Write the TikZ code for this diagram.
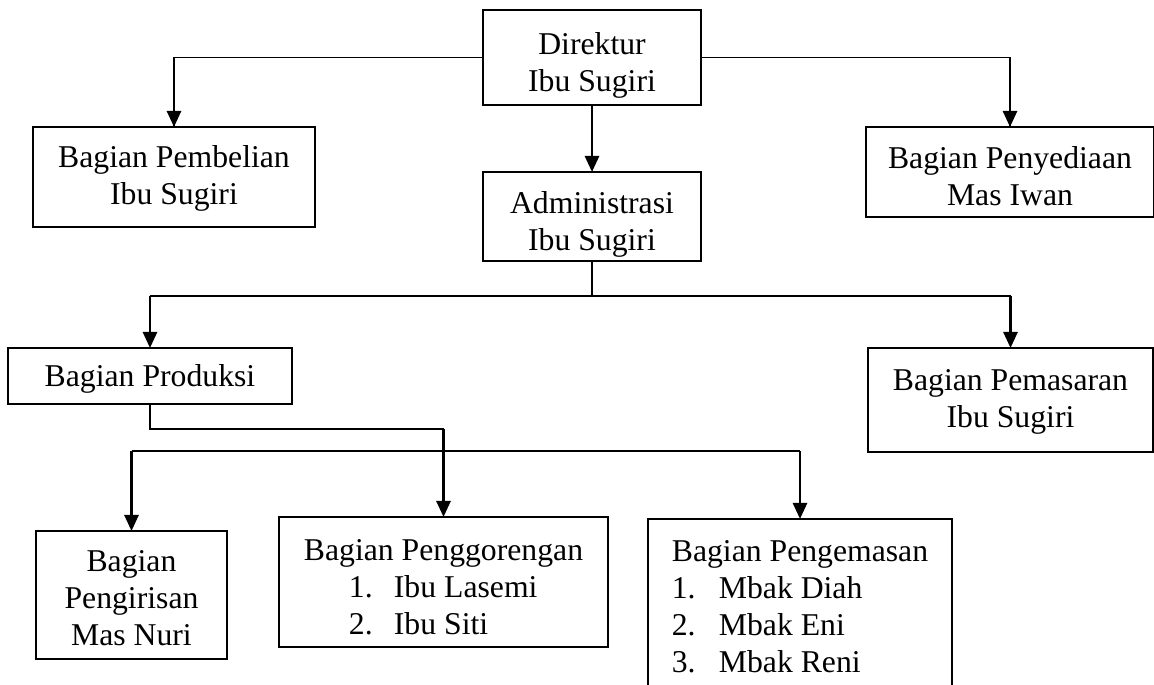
\documentclass[tikz,border=0pt]{standalone}
\usepackage{fontspec}
\setmainfont{Liberation Serif}
\usetikzlibrary{arrows.meta}
\newcommand\mystrut[1]{\rule{0pt}{#1}}
\begin{document}
\begin{tikzpicture}[x=0.025cm,y=-0.025cm,
  font=\fontsize{22.55}{26.3}\selectfont,
  box/.style={draw,line width=1.2pt,inner sep=0pt,outer sep=0pt,align=center},
  hline/.style={line width=1pt},
  arr/.style={line width=1.8pt,-{Triangle[length=11.4pt,width=10pt]}}]
\useasboundingbox (0,0) rectangle (1154,684);
\node[box,minimum width=5.45cm,minimum height=2.375cm] (dir) at (592,57.5) {\mystrut{26.9pt}Direktur\\Ibu Sugiri};
\node[box,minimum width=5.45cm,minimum height=2.225cm] (adm) at (592,216.5) {\mystrut{26.9pt}Administrasi\\Ibu Sugiri};
\node[box,minimum width=7.05cm,minimum height=2.5cm] (beli) at (174,177) {\mystrut{17.6pt}Bagian Pembelian\\Ibu Sugiri};
\node[box,minimum width=7.2cm,minimum height=2.25cm] (sedia) at (1010,172) {\mystrut{21.2pt}Bagian Penyediaan\\Mas Iwan};
\node[box,minimum width=7.1cm,minimum height=1.4cm] (prod) at (150,376) {\mystrut{19.8pt}Bagian Produksi};
\node[box,minimum width=7.125cm,minimum height=2.6cm] (pasar) at (1010.5,400) {\mystrut{18.3pt}Bagian Pemasaran\\Ibu Sugiri};
\node[box,minimum width=4.775cm,minimum height=3.2cm] (iris) at (131.5,595) {\mystrut{19.1pt}Bagian\\Pengirisan\\Mas Nuri};
\node[box,align=left,minimum width=8.225cm,minimum height=3.25cm] (goreng) at (443.5,582)
  {\mystrut{22.6pt}Bagian Penggorengan\\\hspace*{1.125cm}\makebox[1.125cm][l]{1.}Ibu Lasemi\\\hspace*{1.125cm}\makebox[1.125cm][l]{2.}Ibu Siti};
\node[box,align=left,minimum width=7.6cm,minimum height=4.4cm] (kemas) at (800,607)
  {Bagian Pengemasan\\\makebox[1.175cm][l]{1.}Mbak Diah\\\makebox[1.175cm][l]{2.}Mbak Eni\\\makebox[1.175cm][l]{3.}Mbak Reni};
% Direktur connectors
\draw[hline] (dir.west) -| (beli.north);
\draw[arr] (dir.west -| beli.north) -- (beli.north);
\draw[hline] (dir.east) -| (sedia.north);
\draw[arr] (dir.east -| sedia.north) -- (sedia.north);
\draw[arr] (dir.south) -- (adm.north);
% Administrasi bus
\coordinate (b1) at (592,296);
\draw[hline] (adm.south) -- (b1);
\draw[hline] (b1 -| prod.north) -- (b1 -| pasar.north);
\draw[arr] (b1 -| prod.north) -- (prod.north);
\draw[arr] (b1 -| pasar.north) -- (pasar.north);
% Produksi to Penggorengan
\coordinate (b2) at (0,429);
\draw[hline] (prod.south) |- (b2 -| goreng.north);
\draw[arr] (b2 -| goreng.north) -- (goreng.north);
% second bus
\coordinate (b3) at (0,451);
\draw[hline] (b3 -| iris.north) -- (b3 -| kemas.north);
\draw[arr] (b3 -| iris.north) -- (iris.north);
\draw[arr] (b3 -| kemas.north) -- (kemas.north);
\end{tikzpicture}
\end{document}
